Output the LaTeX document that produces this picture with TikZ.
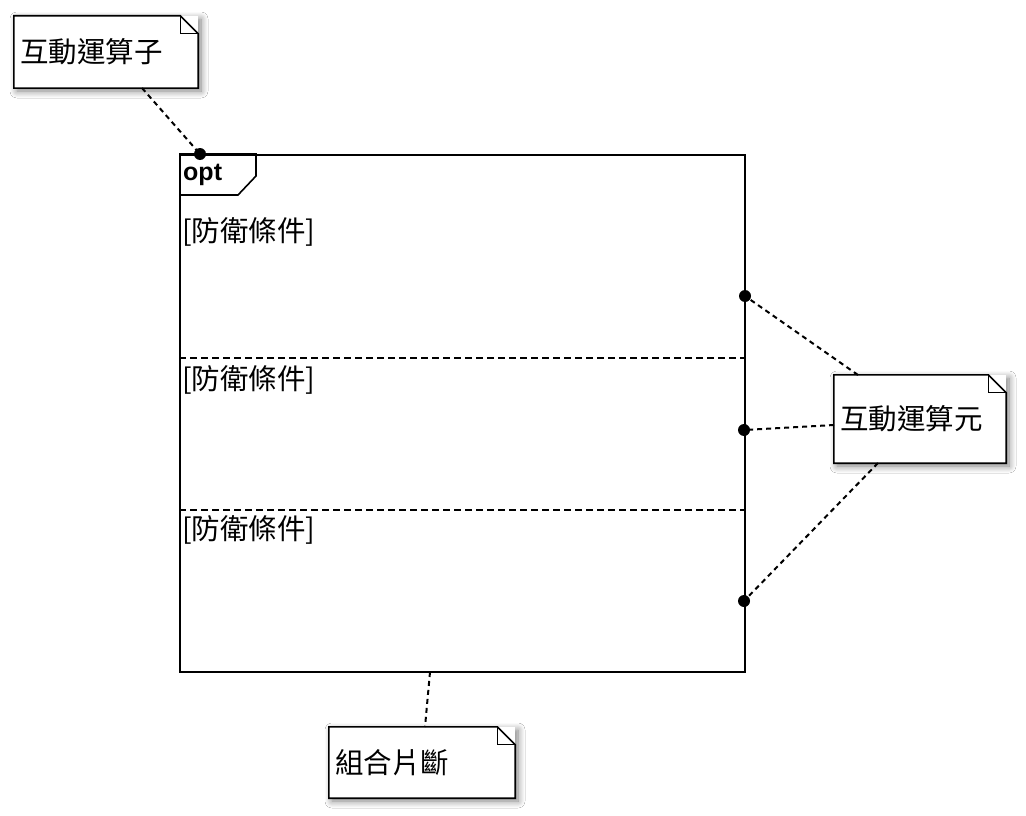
\documentclass[tikz,border=0pt]{standalone}
\usepackage{fontspec}
\newfontfamily\cjk{Noto Sans CJK TC}
\newfontfamily\optfont{Liberation Sans}
\usetikzlibrary{shadows.blur}
\begin{document}
\begin{tikzpicture}[x=1pt,y=-1pt,
  notebox/.style={rectangle, fill=white, inner xsep=6pt, inner ysep=0pt, align=left,
     font=\cjk\fontsize{28.5}{32}\selectfont,
     blur shadow={shadow xshift=3pt, shadow yshift=-3pt, shadow blur steps=8, shadow blur radius=7pt, shadow opacity=50}},
  noteline/.style={draw=black, line width=1.6pt, line join=miter},
  conn/.style={draw=black, line width=2pt, dash pattern=on 5pt off 4pt},
  sep/.style={draw=black, line width=1.3pt, dash pattern=on 7pt off 4pt},
  guard/.style={anchor=west, inner sep=2pt, font=\cjk\fontsize{28.5}{32}\selectfont},
  dotmark/.style={fill=black, draw=none}
]
\useasboundingbox (0,0) rectangle (1026,816);
\fill[white] (0,0) rectangle (1026,816);

% frame
\node[draw=black, line width=1.6pt, minimum width=565pt, minimum height=517pt, inner sep=0pt, anchor=north west] (frame) at (179,154) {};
\draw[line width=1.6pt] (frame.north west) -- ++(77,0) -- ++(0,22) -- ++(-18,19) -- ++(-59,0);
\node[anchor=west, inner sep=0pt, font=\optfont\bfseries\fontsize{25}{28}\selectfont] (opt) at (183,175) {opt};

% separators
\draw[sep] ([yshift=-204pt]frame.north west) coordinate (s1l) -- ([yshift=-204pt]frame.north east) coordinate (s1r);
\draw[sep] ([yshift=-356pt]frame.north west) coordinate (s2l) -- ([yshift=-356pt]frame.north east) coordinate (s2r);

% guards
\node[guard] (g1) at (180,232) {[防衛條件]};
\node[guard] (g2) at (180,380) {[防衛條件]};
\node[guard] (g3) at (180,530) {[防衛條件]};

% notes
\node[notebox, minimum width=184pt, text width=172pt, minimum height=72pt] (n1) at (106,52) {互動運算子};
\node[notebox, minimum width=172pt, text width=160pt, minimum height=88pt] (n2) at (920,419) {互動運算元};
\node[notebox, minimum width=186pt, text width=174pt, minimum height=71pt] (n3) at (422,762.5) {組合片斷};

\foreach \n in {n1,n2,n3}{
  \draw[noteline] (\n.north west) -- ([xshift=-18pt]\n.north east) -- ([yshift=-18pt]\n.north east) -- (\n.south east) -- (\n.south west) -- cycle;
  \draw[noteline, line width=1.2pt] ([xshift=-18pt]\n.north east) -- ([xshift=-18pt,yshift=-18pt]\n.north east) -- ([yshift=-18pt]\n.north east);
}

% attachment points
\coordinate (d1) at (200,154);
\coordinate (d2) at (745,296);
\coordinate (d3) at (744,430);
\coordinate (d4) at (744,601);
\coordinate (d5) at (430,672);
\coordinate (a1) at (142,88);
\coordinate (a2) at (858,375);
\coordinate (a3) at (834,425);
\coordinate (a4) at (878,463);
\coordinate (a5) at (425,727);

\draw[conn] (a1) -- (d1);
\draw[conn] (a2) -- (d2);
\draw[conn] (a3) -- (d3);
\draw[conn] (a4) -- (d4);
\draw[conn] (d5) -- (a5);

\foreach \d in {d1,d2,d3,d4}{
  \fill[dotmark] (\d) circle (6pt);
}
\end{tikzpicture}
\end{document}
